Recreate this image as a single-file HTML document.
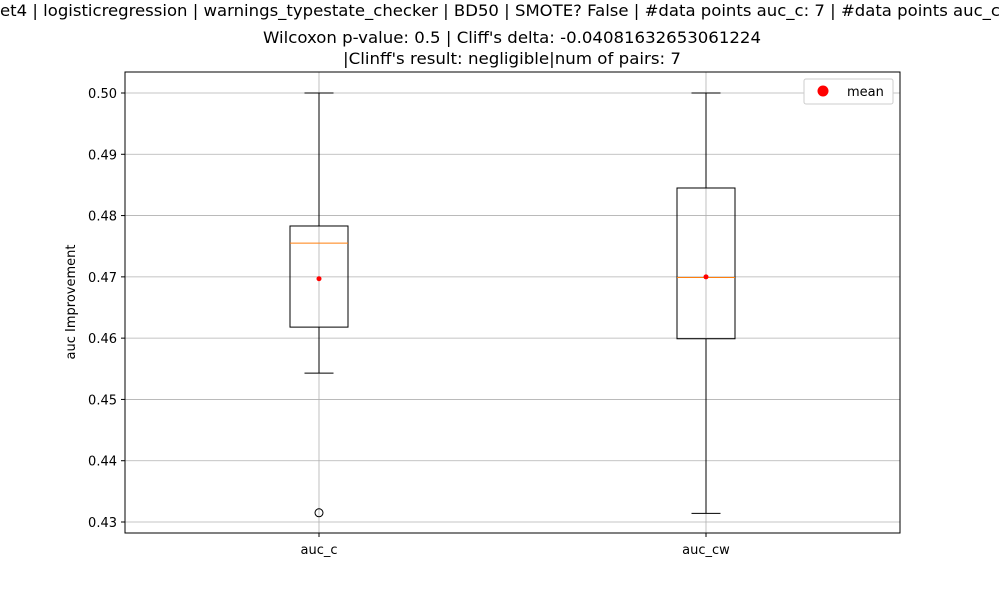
<!DOCTYPE html>
<html><head><meta charset="utf-8"><style>body{margin:0;background:#fff}svg{display:block;font-family:"DejaVu Sans","Liberation Sans",sans-serif}</style></head>
<body>
<svg id="chart" width="1000" height="600" xmlns="http://www.w3.org/2000/svg">
<text x="0" y="16" font-size="16" textLength="1000" lengthAdjust="spacingAndGlyphs">et4 | logisticregression | warnings_typestate_checker | BD50 | SMOTE? False | #data points auc_c: 7 | #data points auc_c</text>
<text x="512" y="43" font-size="16" text-anchor="middle" textLength="498" lengthAdjust="spacingAndGlyphs">Wilcoxon p-value: 0.5 | Cliff's delta: -0.04081632653061224</text>
<text x="512" y="64" font-size="16" text-anchor="middle" textLength="338" lengthAdjust="spacingAndGlyphs">|Clinff's result: negligible|num of pairs: 7</text>
<g id="grid"></g>
<g id="marks"></g>
<rect x="125" y="72" width="775" height="461" fill="none" stroke="#000" stroke-width="1"/>
<text transform="translate(75,302) rotate(-90)" font-size="13" text-anchor="middle">auc Improvement</text>
<g>
<rect x="804" y="79" width="89" height="25" rx="2" fill="#fff" stroke="#ccc"/>
<circle cx="823" cy="91" r="5.5" fill="red"/>
<text x="847" y="96" font-size="13">mean</text>
</g>
</svg>
<script>
const categories=["auc_c","auc_cw"];
const q1=[0.4618,0.4599];
const q3=[0.4783,0.4845];
const medians=[0.4755,0.4699];
const whiskLow=[0.4543,0.4314];
const whiskHigh=[0.50,0.50];
const means=[0.4697,0.4700];
const outliers=[[0.4315],[]];
const yTicks=[0.43,0.44,0.45,0.46,0.47,0.48,0.49,0.50];
const NS="http://www.w3.org/2000/svg";
const y=v=>93+(0.50-v)*6128.6;
const x=i=>319+i*387;
function mk(t,a,p){const e=document.createElementNS(NS,t);for(const k in a)e.setAttribute(k,a[k]);p.appendChild(e);return e;}
const grid=document.getElementById('grid'),marks=document.getElementById('marks');
yTicks.forEach(v=>{
 const l=mk('line',{x1:125,x2:900,y1:y(v),y2:y(v),stroke:'#b0b0b0','stroke-width':0.8},grid);
 
 
 mk('line',{x1:121,x2:125,y1:y(v),y2:y(v),stroke:'#000'},grid);
 const t=mk('text',{x:117,y:y(v)+5,'font-size':13,'text-anchor':'end'},grid);
 t.textContent=v.toFixed(2);
 
 
});
categories.forEach((c,i)=>{
 const cx=x(i);
 mk('line',{x1:cx,x2:cx,y1:72,y2:533,stroke:'#b0b0b0','stroke-width':0.8},grid);
 mk('line',{x1:cx,x2:cx,y1:533,y2:537,stroke:'#000'},grid);
 const t=mk('text',{x:cx,y:554,'font-size':13,'text-anchor':'middle'},grid);
 t.textContent=c;
 
 
 const g=mk('g',{},marks);
 
 
 mk('line',{x1:cx,x2:cx,y1:y(q3[i]),y2:y(whiskHigh[i]),stroke:'#000'},g);
 mk('line',{x1:cx,x2:cx,y1:y(q1[i]),y2:y(whiskLow[i]),stroke:'#000'},g);
 mk('line',{x1:cx-14.5,x2:cx+14.5,y1:y(whiskHigh[i]),y2:y(whiskHigh[i]),stroke:'#000'},g);
 mk('line',{x1:cx-14.5,x2:cx+14.5,y1:y(whiskLow[i]),y2:y(whiskLow[i]),stroke:'#000'},g);
 mk('rect',{x:cx-29,y:y(q3[i]),width:58,height:y(q1[i])-y(q3[i]),fill:'none',stroke:'#000'},g);
 mk('line',{x1:cx-29,x2:cx+29,y1:y(medians[i]),y2:y(medians[i]),stroke:'#ff7f0e'},g);
 outliers[i].forEach(o=>mk('circle',{cx:cx,cy:y(o),r:4,fill:'none',stroke:'#000'},g));
 const m=mk('circle',{cx:cx,cy:y(means[i]),r:2.5,fill:'red'},g);
 
 
});
</script>
</body></html>
